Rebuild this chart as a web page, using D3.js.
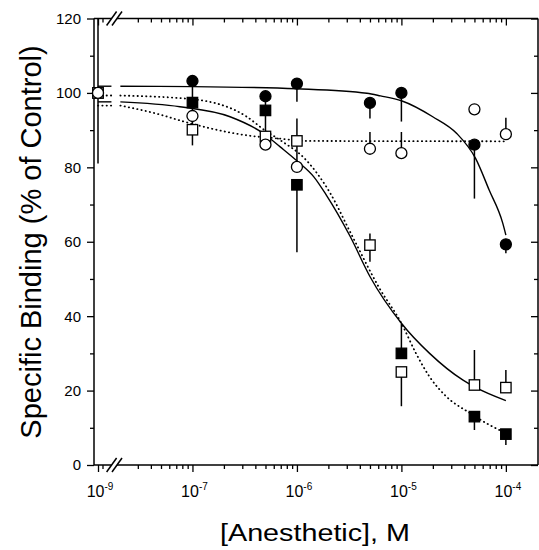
<!DOCTYPE html>
<html>
<head>
<meta charset="utf-8">
<script src="https://cdnjs.cloudflare.com/ajax/libs/d3/7.8.5/d3.min.js"></script>
<style>
    body { margin: 0; background: #fff; }
    svg { display: block; font-family: "Liberation Sans", Arial, Helvetica, sans-serif; }
</style>
</head>
<body>
<svg id="chart" width="539" height="550"></svg>
<script>
// concentrations (M), the 1e-9 point is the control placed left of the axis break
var concentrations = [1e-9, 1e-7, 5e-7, 1e-6, 5e-6, 1e-5, 5e-5, 1e-4];

// filled circles
var fcMean = [100, 103.2, 99.1, 102.5, 97.3, 100.0, 86.1, 59.3];
var fcLow  = [81, 97.4, 95.3, 97.6, 93.1, 92.3, 71.6, 56.9];
var fcHigh = [120, 103.2, 99.1, 102.5, 97.3, 100.0, 86.1, 59.3];
// filled squares
var fsMean = [100, 97.4, 95.3, 75.3, null, 30.0, 13.0, 8.3];
var fsLow  = [100, 93.8, 88.5, 57.2, null, 30.0, 9.4, 5.4];
var fsHigh = [100, 97.4, 95.3, 75.3, null, 38.0, 13.0, 8.3];
// open squares
var osMean = [100, 90.1, 88.3, 87.1, 59.1, 25.0, 21.5, 20.8];
var osLow  = [100, 85.9, 88.3, 87.1, 54.6, 15.8, 21.5, 20.8];
var osHigh = [100, 90.1, 88.3, 93.1, 62.2, 25.0, 30.9, 25.5];
// open circles
var ocMean = [100, 93.8, 86.1, 80.1, 85.0, 83.8, 95.6, 88.9];
var ocLow  = [100, 90.1, 86.1, 80.1, 85.0, 83.8, 95.6, 88.9];
var ocHigh = [100, 93.8, 86.1, 87.1, 89.5, 89.5, 95.6, 93.3];

// fitted curves: [log10 conc, % of control]
var fitFilledCircle = [[-7.69, 101.8], [-7.0, 101.7], [-6.0, 101.1], [-5.33, 99.9], [-5.2, 99.2], [-5.0, 97.9],
    [-4.70, 93.6], [-4.47, 89.1], [-4.29, 82.4], [-4.16, 73.9], [-4.03, 65.0], [-4.0, 61.8]];
var fitOpenSquare = [[-7.69, 97.6], [-7.12, 96.3], [-6.64, 93.6], [-6.32, 89.1], [-6.16, 85.5], [-5.99, 81.5],
    [-5.84, 77.5], [-5.72, 72.6], [-5.49, 61.4], [-5.30, 50.6], [-5.0, 38.1], [-4.73, 30.0], [-4.41, 22.8],
    [-4.30, 21.0], [-4.0, 17.3]];
var fitFilledSquare = [[-7.69, 99.3], [-7.0, 98.3], [-6.48, 93.6], [-6.31, 90.0], [-6.16, 87.3], [-5.91, 81.9],
    [-5.68, 73.0], [-5.49, 62.6], [-5.21, 47.5], [-5.0, 38.1], [-4.86, 30.0], [-4.73, 23.7], [-4.57, 18.4],
    [-4.34, 13.9], [-4.16, 10.8], [-3.99, 8.5]];
var fitOpenCircle = [[-7.69, 96.6], [-7.3, 94.1], [-7.12, 92.6], [-6.48, 88.6], [-6.16, 87.7], [-5.9, 87.1], [-4.0, 87.0]];

var xMajorTicks = [1e-9, 1e-7, 1e-6, 1e-5, 1e-4];
var xTickExponents = ['-9', '-7', '-6', '-5', '-4'];
var yMajorTicks = [0, 20, 40, 60, 80, 100, 120];
var yMinorTicks = [10, 30, 50, 70, 90, 110];

var frame = {left: 94, right: 538, top: 18.5, bottom: 465};
var breakX = 114.3;

var svg = d3.select('#chart');

// piecewise log scale: 1e-9 .. 1.9e-8 squeezed into the broken part of the axis
var x = d3.scaleLog()
    .domain([1e-9, 1.9e-8, 2.03e-4])
    .range([98, 117.1, frame.right]);
var y = d3.scaleLinear()
    .domain([0, 120])
    .range([frame.bottom, frame.top]);

var xMinorTicks = [2e-9];
[-8, -7, -6, -5].forEach(function (e) {
    for (var k = 2; k <= 9; k++) {
        var v = k * Math.pow(10, e);
        if (x(v) > 124) xMinorTicks.push(v);
    }
});

function tickGroup(axis, transform) {
    var g = svg.append('g')
        .attr('transform', transform)
        .call(axis);
    g.select('.domain').remove();
    g.selectAll('line').attr('stroke', '#000').attr('stroke-width', 1.3);
    return g;
}

tickGroup(d3.axisBottom(x).tickValues(xMajorTicks).tickSize(7).tickFormat(''), 'translate(0,' + frame.bottom + ')');
tickGroup(d3.axisBottom(x).tickValues(xMinorTicks).tickSize(4).tickFormat(''), 'translate(0,' + frame.bottom + ')');
tickGroup(d3.axisBottom(x).tickValues(xMajorTicks).tickSize(7).tickFormat(''), 'translate(0,' + frame.top + ')');
tickGroup(d3.axisBottom(x).tickValues(xMinorTicks).tickSize(4).tickFormat(''), 'translate(0,' + frame.top + ')');
tickGroup(d3.axisLeft(y).tickValues(yMajorTicks).tickSize(7).tickFormat(''), 'translate(' + frame.left + ',0)');
tickGroup(d3.axisLeft(y).tickValues(yMinorTicks).tickSize(4).tickFormat(''), 'translate(' + frame.left + ',0)');
tickGroup(d3.axisLeft(y).tickValues(yMajorTicks).tickSize(7).tickFormat(''), 'translate(' + frame.right + ',0)');
tickGroup(d3.axisLeft(y).tickValues(yMinorTicks).tickSize(4).tickFormat(''), 'translate(' + frame.right + ',0)');

// frame with the axis break
var frameLines = [
    [frame.left, frame.top, frame.left, frame.bottom],
    [frame.right, frame.top, frame.right, frame.bottom],
    [frame.left, frame.top, breakX - 2.7, frame.top],
    [breakX + 2.7, frame.top, frame.right, frame.top],
    [frame.left, frame.bottom, breakX - 2.7, frame.bottom],
    [breakX + 2.7, frame.bottom, frame.right, frame.bottom]
];
[frame.top, frame.bottom].forEach(function (yy) {
    [-2.7, 2.7].forEach(function (off) {
        frameLines.push([breakX + off - 5, yy + 7, breakX + off + 5, yy - 7]);
    });
});
svg.append('g')
    .selectAll('line')
    .data(frameLines)
    .enter()
    .append('line')
    .attr('x1', function (d) { return d[0]; })
    .attr('y1', function (d) { return d[1]; })
    .attr('x2', function (d) { return d[2]; })
    .attr('y2', function (d) { return d[3]; })
    .attr('stroke', '#000')
    .attr('stroke-width', 1.5);

// tick labels
var xLabels = svg.append('g')
    .selectAll('text')
    .data(xMajorTicks)
    .enter()
    .append('text')
    .attr('x', function (d) { return x(d) + 2; })
    .attr('y', 497)
    .attr('text-anchor', 'middle')
    .style('font-size', '16px');
xLabels.append('tspan').text('10');
xLabels.append('tspan')
    .attr('dy', -7)
    .style('font-size', '10px')
    .text(function (d, i) { return xTickExponents[i]; });

svg.append('g')
    .selectAll('text')
    .data(yMajorTicks)
    .enter()
    .append('text')
    .attr('x', 81)
    .attr('y', function (d) { return y(d); })
    .attr('dy', '0.36em')
    .attr('text-anchor', 'end')
    .style('font-size', '15px')
    .text(function (d) { return d; });

// axis titles
svg.append('text')
    .attr('transform', 'translate(41,242) rotate(-90)')
    .attr('text-anchor', 'middle')
    .style('font-size', '29px')
    .text('Specific Binding (% of Control)');

svg.append('text')
    .attr('x', 220)
    .attr('y', 541)
    .attr('textLength', 190)
    .attr('lengthAdjust', 'spacingAndGlyphs')
    .style('font-size', '23px')
    .text('[Anesthetic], M');

// fitted curves
var line = d3.line()
    .x(function (d) { return x(Math.pow(10, d[0])); })
    .y(function (d) { return y(d[1]); })
    .curve(d3.curveMonotoneX);

var fits = [
    {pts: fitFilledCircle, dotted: false},
    {pts: fitOpenSquare, dotted: false},
    {pts: fitFilledSquare, dotted: true},
    {pts: fitOpenCircle, dotted: true}
];
var curves = svg.append('g');
fits.forEach(function (f) {
    var start = f.pts[0][1];
    // short piece left of the axis break
    var left = [[-9, start], [-8.1, start]];
    [left, f.pts].forEach(function (pts) {
        curves.append('path')
            .attr('d', line(pts))
            .attr('fill', 'none')
            .attr('stroke', '#000')
            .attr('stroke-width', f.dotted ? 1.8 : 1.4)
            .attr('stroke-linecap', f.dotted ? 'round' : 'butt')
            .attr('stroke-dasharray', f.dotted ? '0.3,4' : null);
    });
});

// error bars then markers
var series = [
    {mean: fcMean, low: fcLow, high: fcHigh, shape: 'circle', fill: '#000'},
    {mean: fsMean, low: fsLow, high: fsHigh, shape: 'square', fill: '#000'},
    {mean: osMean, low: osLow, high: osHigh, shape: 'square', fill: '#fff'},
    {mean: ocMean, low: ocLow, high: ocHigh, shape: 'circle', fill: '#fff'}
];

var bars = svg.append('g');
series.forEach(function (s) {
    var rows = concentrations.map(function (c, i) {
        return {c: c, lo: s.low[i], hi: s.high[i]};
    }).filter(function (d) { return d.lo != null && d.hi - d.lo > 0; });
    bars.selectAll(null)
        .data(rows)
        .enter()
        .append('line')
        .attr('x1', function (d) { return x(d.c); })
        .attr('x2', function (d) { return x(d.c); })
        .attr('y1', function (d) { return y(d.lo); })
        .attr('y2', function (d) { return y(d.hi); })
        .attr('stroke', '#000')
        .attr('stroke-width', 1.5);
});

var marks = svg.append('g');
series.forEach(function (s) {
    var rows = concentrations.map(function (c, i) {
        return {c: c, v: s.mean[i]};
    }).filter(function (d) { return d.v != null; });
    if (s.shape === 'circle') {
        marks.selectAll(null)
            .data(rows)
            .enter()
            .append('circle')
            .attr('cx', function (d) { return x(d.c); })
            .attr('cy', function (d) { return y(d.v); })
            .attr('r', 5.5)
            .attr('fill', s.fill)
            .attr('stroke', '#000')
            .attr('stroke-width', 1.3);
    } else {
        marks.selectAll(null)
            .data(rows)
            .enter()
            .append('rect')
            .attr('x', function (d) { return x(d.c) - 5.2; })
            .attr('y', function (d) { return y(d.v) - 5.2; })
            .attr('width', 10.4)
            .attr('height', 10.4)
            .attr('fill', s.fill)
            .attr('stroke', '#000')
            .attr('stroke-width', 1.3);
    }
});
</script>
</body>
</html>
